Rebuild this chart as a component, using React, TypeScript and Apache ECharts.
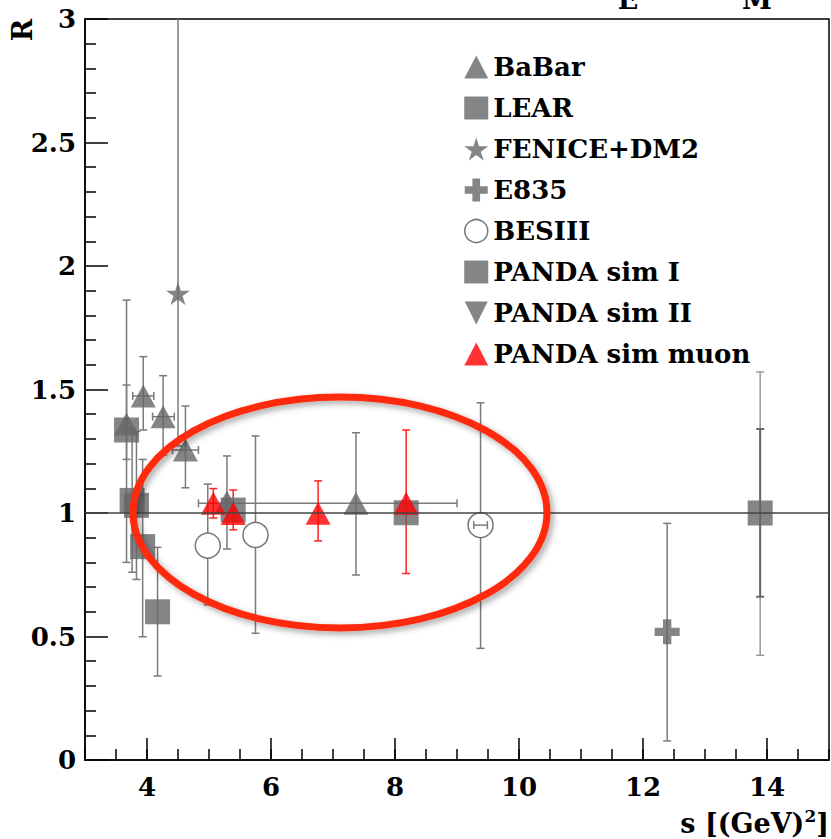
import React, { useEffect, useRef } from "react";
import * as echarts from "echarts";

// ---------- data ----------
const babarX = [3.67, 3.94, 4.26, 4.62, 5.29, 7.37];
const babarY = [1.36, 1.474, 1.39, 1.255, 1.045, 1.039];
const babarYLow = [1.217, 1.336, 1.235, 1.102, 0.854, 0.749];
const babarYHigh = [1.518, 1.633, 1.556, 1.433, 1.231, 1.325];
const babarXLow = [3.67, 3.77, 4.09, 4.41, 5.29, 4.83];
const babarXHigh = [3.67, 4.11, 4.44, 4.83, 5.29, 9.0];

const learX = [3.67, 3.76, 3.83, 3.93, 4.17];
const learY = [1.336, 1.051, 1.031, 0.864, 0.6];
const learYLow = [0.8, 0.76, 0.731, 0.499, 0.34];
const learYHigh = [1.862, 1.34, 1.33, 1.217, 0.861];

const feniceX = [4.5];
const feniceY = [1.889];
const feniceYLow = [1.272];
const feniceYHigh = [3.5];

const e835X = [12.39];
const e835Y = [0.519];
const e835YLow = [0.077];
const e835YHigh = [0.958];

const besX = [4.98, 5.75, 9.38];
const besY = [0.868, 0.911, 0.951];
const besYLow = [0.628, 0.513, 0.452];
const besYHigh = [1.117, 1.312, 1.446];
const besXLow = [4.98, 5.75, 9.27];
const besXHigh = [4.98, 5.75, 9.49];

const simIX = [5.39, 8.18, 13.89];
const simIY = [1.012, 1.001, 1.0];
const simIYLow = [1.012, 1.001, 0.661];
const simIYHigh = [1.012, 1.001, 1.34];
const simIOuterX = [13.89];
const simIOuterY = [1.0];
const simIOuterLow = [0.424];
const simIOuterHigh = [1.571];

const simIIX: number[] = [];
const simIIY: number[] = [];

const muonX = [5.07, 5.39, 6.76, 8.18];
const muonY = [1.039, 0.998, 0.999, 1.039];
const muonYLow = [0.98, 0.932, 0.887, 0.755];
const muonYHigh = [1.099, 1.093, 1.13, 1.336];

const xTickValues = [4, 6, 8, 10, 12, 14];
const refLine = 1;

// ---------- styles ----------
const GRAY = "#666666";
const ERR = "#7a7a7a";
const RED = "#ff0000";
const FONT = "DejaVu Serif";
const TICK_FS = 26;

const STAR =
  "path://M50,0 L61.17,34.63 L97.55,34.55 L68.07,55.87 L79.39,90.45 L50,69 L20.61,90.45 L31.93,55.87 L2.45,34.55 L38.83,34.63 Z";
const CROSS = "path://M3,0 L6,0 L6,3 L9,3 L9,6 L6,6 L6,9 L3,9 L3,6 L0,6 L0,3 L3,3 Z";
const DOWN = "path://M0,0 L2,0 L1,2 Z";

function errData(
  xs: number[],
  ys: number[],
  lo: number[],
  hi: number[],
  xlo?: number[],
  xhi?: number[]
) {
  return xs.map((x, i) => [x, ys[i], lo[i], hi[i], xlo ? xlo[i] : x, xhi ? xhi[i] : x]);
}

function makeRender(color: string, width: number, gap: number, cap: number) {
  return function (_params: any, api: any) {
    const x = api.value(0);
    const y = api.value(1);
    const yl = api.value(2);
    const yh = api.value(3);
    const xl = api.value(4);
    const xh = api.value(5);
    const c = api.coord([x, y]);
    const top = api.coord([x, Math.min(yh, 3)]);
    const bot = api.coord([x, Math.max(yl, 0)]);
    const left = api.coord([xl, y]);
    const right = api.coord([xh, y]);
    const style = { stroke: color, lineWidth: width };
    const ch: any[] = [];
    const L = (x1: number, y1: number, x2: number, y2: number) =>
      ch.push({ type: "line", shape: { x1, y1, x2, y2 }, style });
    if (c[1] - top[1] > gap + 0.5) {
      L(c[0], c[1] - gap, c[0], top[1]);
      if (yh <= 3) L(c[0] - cap, top[1], c[0] + cap, top[1]);
    }
    if (bot[1] - c[1] > gap + 0.5) {
      L(c[0], c[1] + gap, c[0], bot[1]);
      L(c[0] - cap, bot[1], c[0] + cap, bot[1]);
    }
    if (right[0] - left[0] > 1) {
      L(left[0], c[1], right[0], c[1]);
      L(left[0], c[1] - cap, left[0], c[1] + cap);
      L(right[0], c[1] - cap, right[0], c[1] + cap);
    }
    return { type: "group", children: ch };
  };
}

function errSeries(id: string, data: any[], color: string, width: number, gap: number, extra: any = {}) {
  return {
    type: "custom",
    name: id,
    silent: true,
    renderItem: makeRender(color, width, gap, 4),
    data,
    encode: { x: 0, y: 1 },
    xAxisIndex: 0,
    yAxisIndex: 0,
    z: 2,
    ...extra,
  };
}

function pts(xs: number[], ys: number[]) {
  return xs.map((x, i) => [x, ys[i]]);
}

function scatter(name: string, data: any[], symbol: string, size: any, itemStyle: any) {
  return {
    type: "scatter",
    name,
    data,
    symbol,
    symbolSize: size,
    itemStyle,
    xAxisIndex: 0,
    yAxisIndex: 0,
    z: 2,
    silent: true,
  };
}

function txt(text: string, x: number, y: number, extra: any = {}) {
  return {
    type: "text",
    x,
    y,
    ...extra,
    style: {
      text,
      fontFamily: FONT,
      fontWeight: "bold",
      fontSize: 27,
      fill: "#000",
      align: "center",
      verticalAlign: "middle",
    },
  };
}

export default function App() {
  const ref = useRef<HTMLDivElement>(null);
  useEffect(() => {
    if (!ref.current) return;
    const chart = echarts.init(ref.current, undefined, { renderer: "svg" });
    const labelFont = { fontFamily: FONT, fontWeight: "bold", fontSize: TICK_FS, color: "#000" };
    const option: any = {
      animation: false,
      backgroundColor: "#fff",
      grid: {
        left: 85,
        top: 19,
        right: 2,
        bottom: 79,
        show: true,
        borderColor: "#000",
        borderWidth: 1.5,
        outerBoundsMode: "none",
        containLabel: false,
      },
      xAxis: [
        {
          type: "value",
          min: 3,
          max: 15,
          interval: 1,
          axisLine: { show: true, lineStyle: { color: "#000", width: 1.5 } },
          axisTick: {
            show: true,
            inside: true,
            length: 22,
            customValues: xTickValues,
            lineStyle: { color: "#000", width: 1.5 },
          },
          axisLabel: { ...labelFont, margin: 14, customValues: xTickValues },
          splitLine: { show: false },
        },
        {
          type: "value",
          position: "bottom",
          min: 3,
          max: 15,
          interval: 0.5,
          axisLine: { show: false },
          axisTick: { show: true, inside: true, length: 11, lineStyle: { color: "#000", width: 1.5 } },
          axisLabel: { show: false },
          splitLine: { show: false },
        },
      ],
      yAxis: {
        type: "value",
        min: 0,
        max: 3,
        interval: 0.5,
        axisLine: { show: true, lineStyle: { color: "#000", width: 1.5 } },
        axisTick: { show: true, inside: true, length: 23, lineStyle: { color: "#000", width: 1.5 } },
        minorTick: { show: true, splitNumber: 5, length: 11, lineStyle: { color: "#000", width: 1.5 } },
        axisLabel: { ...labelFont, margin: 9 },
        splitLine: { show: false },
        minorSplitLine: { show: false },
      },
      legend: {
        orient: "vertical",
        left: 459,
        top: 49,
        itemWidth: 24,
        itemHeight: 23,
        itemGap: 15,
        selectedMode: false,
        textStyle: { fontFamily: FONT, fontWeight: "bold", fontSize: 26, color: "#000" },
        data: [
          "BaBar",
          "LEAR",
          "FENICE+DM2",
          "E835",
          { name: "BESIII", itemStyle: { color: "transparent", borderColor: "#555", borderWidth: 1.5 } },
          "PANDA sim I",
          "PANDA sim II",
          "PANDA sim muon",
        ],
      },
      graphic: [
        {
          type: "ellipse",
          z: 100,
          shape: { cx: 340, cy: 512.5, rx: 207, ry: 115.5 },
          style: {
            fill: "none",
            stroke: "#ff2a0a",
            lineWidth: 7,
            shadowBlur: 6,
            shadowColor: "rgba(0,0,0,0.35)",
            shadowOffsetX: 3,
            shadowOffsetY: 3,
          },
        },
        txt("R", 22, 30, { rotation: Math.PI / 2 }),
        {
          type: "text",
          x: 829,
          y: 823,
          style: {
            text: "{a|s [(GeV)}{b|2}{a|]}",
            align: "right",
            verticalAlign: "middle",
            fill: "#000",
            rich: {
              a: { fontFamily: FONT, fontWeight: "bold", fontSize: 27, fill: "#000" },
              b: { fontFamily: FONT, fontWeight: "bold", fontSize: 17, fill: "#000", padding: [0, 0, 14, 0] },
            },
          },
        },
        txt("E", 628, -1),
        txt("M", 757, -1),
      ],
      series: [
        {
          ...errSeries("_e_babar", errData(babarX, babarY, babarYLow, babarYHigh, babarXLow, babarXHigh), ERR, 1.5, 0),
          markLine: {
            silent: true,
            symbol: "none",
            label: { show: false },
            lineStyle: { color: "#444", width: 1.5, type: "solid" },
            data: [{ yAxis: refLine }],
          },
        },
        scatter("BaBar", pts(babarX, babarY), "triangle", [25, 23], { color: GRAY }),
        errSeries("_e_lear", errData(learX, learY, learYLow, learYHigh), ERR, 1.5, 0),
        scatter("LEAR", pts(learX, learY), "rect", 25, { color: GRAY }),
        errSeries("_e_fen", errData(feniceX, feniceY, feniceYLow, feniceYHigh), ERR, 1.5, 0),
        scatter("FENICE+DM2", pts(feniceX, feniceY), STAR, [24, 23], { color: GRAY }),
        errSeries("_e_e835", errData(e835X, e835Y, e835YLow, e835YHigh), ERR, 1.5, 0),
        scatter("E835", pts(e835X, e835Y), CROSS, 25, { color: GRAY }),
        errSeries("_e_bes", errData(besX, besY, besYLow, besYHigh, besXLow, besXHigh), ERR, 1.5, 12.5),
        scatter("BESIII", pts(besX, besY), "circle", 25, {
          color: "transparent",
          borderColor: "#555",
          borderWidth: 1.5,
        }),
        errSeries("_e_simIo", errData(simIOuterX, simIOuterY, simIOuterLow, simIOuterHigh), "#999", 1.5, 0),
        errSeries("_e_simI", errData(simIX, simIY, simIYLow, simIYHigh), "#666", 2, 0),
        scatter("PANDA sim I", pts(simIX, simIY), "rect", 25, { color: GRAY }),
        scatter("PANDA sim II", pts(simIIX, simIIY), DOWN, [25, 23], { color: GRAY }),
        errSeries("_e_muon", errData(muonX, muonY, muonYLow, muonYHigh), "#ff2020", 1.5, 0),
        scatter("PANDA sim muon", pts(muonX, muonY), "triangle", [25, 23], { color: RED }),
      ],
    };
    chart.setOption(option);
    return () => chart.dispose();
  }, []);
  return <div ref={ref} style={{ position: "fixed", left: 0, top: 0, width: 831, height: 839 }} />;
}
